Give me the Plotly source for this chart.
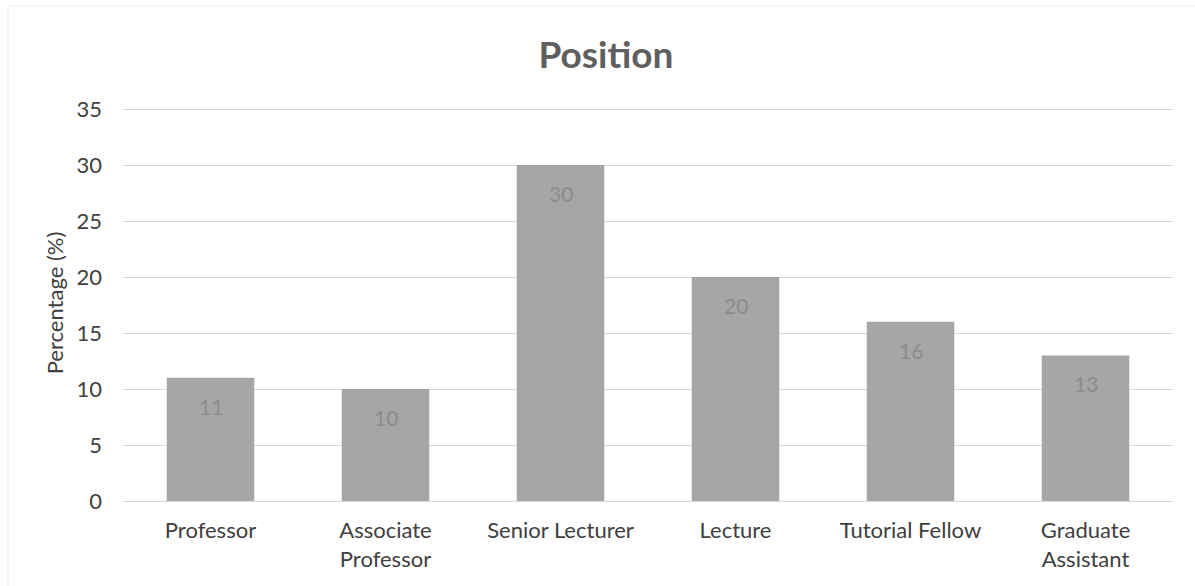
import plotly.graph_objects as go

categories = ["Professor", "Associate<br>Professor", "Senior Lecturer", "Lecture", "Tutorial Fellow", "Graduate<br>Assistant"]
values = [11, 10, 30, 20, 16, 13]
y_ticks = [0, 5, 10, 15, 20, 25, 30, 35]

FONT = "Lato"

fig = go.Figure()
fig.add_trace(go.Bar(
    x=categories, y=values,
    marker=dict(color="#a6a6a6", line=dict(width=0)),
    hoverinfo="skip",
))

for c, v in zip(categories, values):
    fig.add_annotation(x=c, y=v, text=str(v), showarrow=False,
                       yanchor="top", yshift=-14,
                       font=dict(family=FONT, size=21, color="#8c8c8c"))

W, H = 1195, 586
L, R, T, B = 123, 22, 105, 85
pw, ph = W - L - R, H - T - B

def px(x):
    return (x - L) / pw

def py(y):
    return (H - B - y) / ph

# faint chart border
fig.add_shape(type="line", xref="paper", yref="paper",
              x0=px(8), x1=px(8), y0=py(6), y1=py(590),
              line=dict(color="#e3e3e3", width=1))
fig.add_shape(type="line", xref="paper", yref="paper",
              x0=px(8), x1=px(1200), y0=py(6), y1=py(6),
              line=dict(color="#ececec", width=1))

fig.update_layout(
    width=W, height=H,
    margin=dict(l=L, r=R, t=T, b=B),
    paper_bgcolor="white", plot_bgcolor="white",
    bargap=0.5,
    showlegend=False,
    font=dict(family=FONT, size=22, color="#404040"),
    title=dict(text="<b>Position</b>", x=606 / W, xanchor="center",
               y=1 - 55 / H, yanchor="middle",
               font=dict(family=FONT, size=37, color="#5f5f5f")),
)
fig.update_xaxes(showline=False, showgrid=False, ticks="",
                 tickfont=dict(family=FONT, size=22, color="#404040"),
                 ticklabelstandoff=14)
fig.update_yaxes(range=[0, 35.36], tickvals=y_ticks, showgrid=True,
                 gridcolor="#d9d9d9", gridwidth=1, zeroline=True,
                 zerolinecolor="#d9d9d9", zerolinewidth=1,
                 showline=False, ticks="",
                 tickfont=dict(family=FONT, size=22, color="#404040"),
                 ticklabelstandoff=20,
                 title=dict(text="Percentage (%)", standoff=6,
                            font=dict(family=FONT, size=22, color="#404040")))

fig.write_html("out.html")
